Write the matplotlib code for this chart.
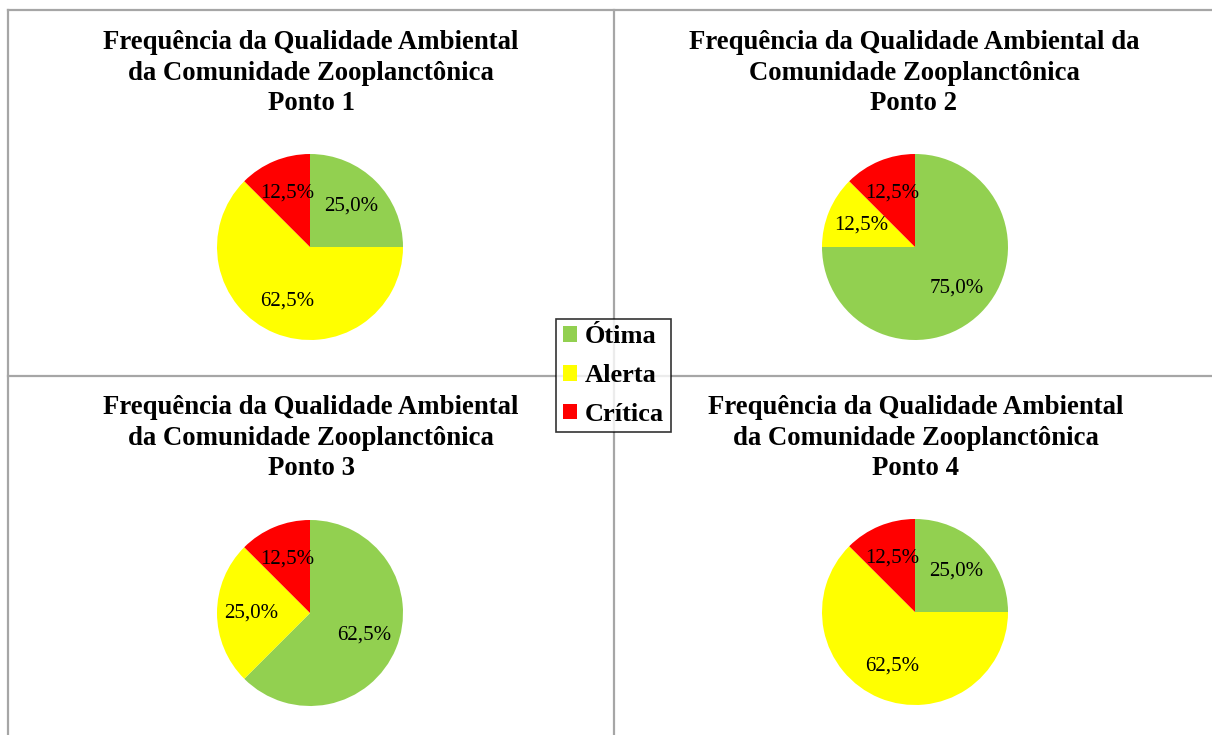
import matplotlib
matplotlib.use('Agg')
from matplotlib import pyplot as plt
from matplotlib.patches import Patch
from matplotlib.lines import Line2D

# ------------------------------------------------------------------------------
# Dados (frequencia %, por ponto)
# ------------------------------------------------------------------------------
categorias = ['Ótima', 'Alerta', 'Crítica']
cores = ['#92D050', '#FFFF00', '#FF0000']
ponto1 = [25.0, 62.5, 12.5]
ponto2 = [75.0, 12.5, 12.5]
ponto3 = [62.5, 25.0, 12.5]
ponto4 = [25.0, 62.5, 12.5]
titulos = ['Frequência da Qualidade Ambiental\nda Comunidade Zooplanctônica\nPonto 1',
           'Frequência da Qualidade Ambiental da\nComunidade Zooplanctônica\nPonto 2',
           'Frequência da Qualidade Ambiental\nda Comunidade Zooplanctônica\nPonto 3',
           'Frequência da Qualidade Ambiental\nda Comunidade Zooplanctônica\nPonto 4']

# ------------------------------------------------------------------------------
# Figura
# ------------------------------------------------------------------------------
W, H = 1212, 735
DPI = 100
plt.rcParams['font.family'] = ['Liberation Serif', 'DejaVu Serif']
fig = plt.figure(figsize=(W / DPI, H / DPI), dpi=DPI)

def fx(px):
    return px / W

def fy(py):
    return 1 - py / H

# linhas de separacao
cinza = '#A6A6A6'
for (x0, y0, x1, y1) in [(8, 10, 1212, 10), (8, 10, 8, 735), (8, 376, 1212, 376), (614, 10, 614, 735)]:
    fig.add_artist(Line2D([fx(x0), fx(x1)], [fy(y0), fy(y1)], color=cinza, lw=1.6,
                          transform=fig.transFigure))

def fmt(p):
    return ('%.1f%%' % p).replace('.', ',')

centros = [(310, 247), (915, 247), (310, 613), (915, 612)]
centros_tit = [(311, 73), (914, 73), (311, 438), (916, 438)]
raio = 93
for dados, (cx, cy), (tx, ty), tit in zip([ponto1, ponto2, ponto3, ponto4], centros, centros_tit, titulos):
    ax = fig.add_axes([fx(cx - raio), fy(cy + raio), 2 * raio / W, 2 * raio / H])
    ax.pie(dados, colors=cores, startangle=90, counterclock=False, autopct=fmt,
           pctdistance=0.63, textprops={'fontsize': 15, 'color': 'black'})
    ax.set_xlim(-1, 1)
    ax.set_ylim(-1, 1)
    ax.set_aspect('equal')
    ax.axis('off')
    fig.text(fx(tx), fy(ty), tit, ha='center', va='center', fontsize=19.3,
             fontweight='bold', linespacing=1.27)

handles = [Patch(facecolor=c, edgecolor='none') for c in cores]
leg = fig.legend(handles, categorias, loc='center', bbox_to_anchor=(fx(613.5), fy(375.5)),
                 prop={'weight': 'bold', 'size': 19}, frameon=True, fancybox=False,
                 edgecolor='black', handlelength=0.55, handleheight=0.55,
                 handletextpad=0.3, labelspacing=0.6, borderpad=0.25, borderaxespad=0)
leg.get_frame().set_linewidth(1.2)

plt.savefig('out.png', dpi=DPI)
